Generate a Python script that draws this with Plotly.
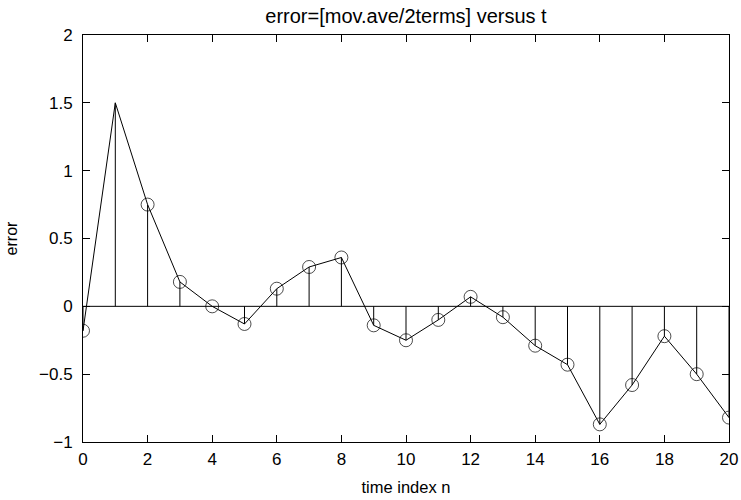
import plotly.graph_objects as go

n = list(range(21))
err = [-0.18, 1.50, 0.75, 0.18, 0.00, -0.13, 0.13, 0.29, 0.36, -0.14, -0.25,
       -0.10, 0.07, -0.08, -0.29, -0.43, -0.87, -0.58, -0.22, -0.50, -0.82]
no_marker = [1]  # index drawn without a circle in the reference

x_ticks = list(range(0, 21, 2))
y_ticks = [-1, -0.5, 0, 0.5, 1, 1.5, 2]
y_tick_text = ["\u22121", "\u22120.5", "0", "0.5", "1", "1.5", "2"]

fig = go.Figure()

# stems
sx, sy = [], []
for xi, yi in zip(n, err):
    sx += [xi, xi, None]
    sy += [0, yi, None]
fig.add_trace(go.Scatter(x=sx, y=sy, mode="lines",
                         line=dict(color="black", width=1), hoverinfo="skip"))
# baseline
fig.add_trace(go.Scatter(x=[min(n), max(n)], y=[0, 0], mode="lines",
                         line=dict(color="black", width=1), hoverinfo="skip"))
# connecting line with open circles
sizes = [0 if i in no_marker else 13 for i in range(len(n))]
fig.add_trace(go.Scatter(x=n, y=err, mode="lines+markers",
                         line=dict(color="black", width=1),
                         marker=dict(symbol="circle-open", size=sizes, color="black",
                                     line=dict(width=1, color="black"))))

axis_common = dict(showline=True, linecolor="black", linewidth=1, mirror="ticks",
                   ticks="inside", ticklen=7, tickcolor="black", showgrid=False,
                   zeroline=False, automargin=False,
                   tickfont=dict(size=17, color="black"))

fig.update_layout(
    width=741, height=500,
    margin=dict(l=83, r=12, t=35, b=58),
    plot_bgcolor="white", paper_bgcolor="white",
    showlegend=False,
    font=dict(family="Liberation Sans, Arial, sans-serif", color="black"),
    title=dict(text="error=[mov.ave/2terms] versus t", xref="paper", x=0.5,
               xanchor="center", y=1 - 16 / 500, yanchor="middle",
               font=dict(size=20)),
    xaxis=dict(range=[0, 20], tickvals=x_ticks, ticktext=[str(v) for v in x_ticks],
               ticklabelstandoff=2,
               title=dict(text="time index n", font=dict(size=16.5), standoff=13),
               **axis_common),
    yaxis=dict(range=[-1, 2], tickvals=y_ticks, ticktext=y_tick_text,
               ticklabelstandoff=6,
               title=dict(text="error", font=dict(size=16), standoff=17),
               **axis_common),
)

fig.write_html("out.html", config={"displayModeBar": False},
               post_script="document.body.style.margin='0';")
